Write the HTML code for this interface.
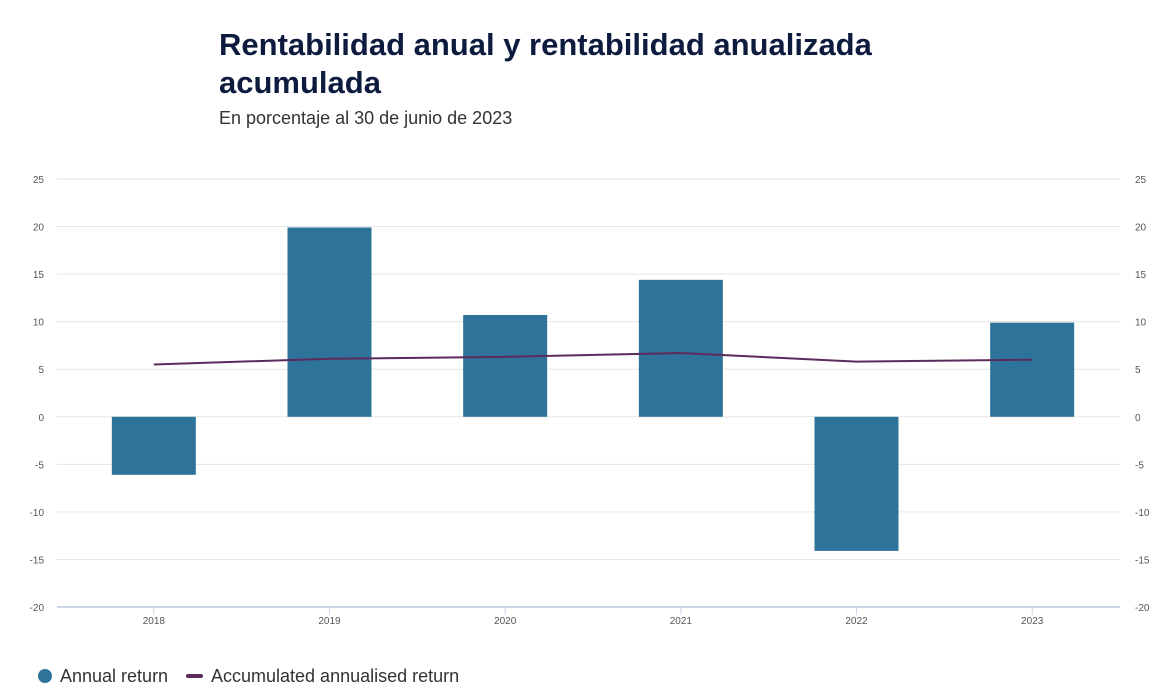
<!DOCTYPE html>
<html><head><meta charset="utf-8"><style>
body{margin:0;background:#fff;font-family:"Liberation Sans",sans-serif;}
#wrap{position:relative;width:1172px;height:699px;overflow:hidden}
h1{position:absolute;left:219px;top:26px;margin:0;font-size:31px;line-height:38px;font-weight:bold;color:#0d1b3e;}
.sub{position:absolute;left:219px;top:108px;font-size:18px;color:#333;}
svg text{font-family:"Liberation Sans",sans-serif}
</style></head><body>
<div id="wrap">
<h1>Rentabilidad anual y rentabilidad anualizada<br>acumulada</h1>
<div class="sub">En porcentaje al 30 de junio de 2023</div>
<svg id="chart" width="1172" height="699" style="position:absolute;left:0;top:0"></svg>
</div>
<script>
const categories=["2018","2019","2020","2021","2022","2023"];
const annualReturn=[-6.1,19.9,10.7,14.4,-14.1,9.9];
const accumulated=[5.5,6.1,6.3,6.7,5.8,6.0];
const yTicks=[25,20,15,10,5,0,-5,-10,-15,-20];
const NS="http://www.w3.org/2000/svg";
const svg=document.getElementById('chart');
const L=66,R=1120,gridL=57,top0=179,bot=607,yMax=25,yMin=-20;
const band=(R-L)/categories.length;
function y(v){return top0+(yMax-v)/(yMax-yMin)*(bot-top0);}
function x(i){return L+band*(i+0.5);}
function mk(t,a){const e=document.createElementNS(NS,t);for(const k in a)e.setAttribute(k,a[k]);svg.appendChild(e);return e;}
yTicks.forEach(t=>{
 const g=mk('line',{x1:gridL,x2:R,y1:y(t),y2:y(t),stroke:t===yMin?'#ccd3e6':'#e6e6e6','stroke-width':t===yMin?2:1});
 
 
 const a=mk('text',{x:44,y:y(t)+4,'text-anchor':'end','font-size':10,fill:'#555'});a.textContent=t;
 
 
 const b=mk('text',{x:1135,y:y(t)+4,'text-anchor':'start','font-size':10,fill:'#555'});b.textContent=t;
 
 
});
categories.forEach((c,i)=>{
 const tk=mk('line',{x1:x(i),x2:x(i),y1:bot,y2:bot+8,stroke:'#ccd3e6'});
 
 
 const t=mk('text',{x:x(i),y:624,'text-anchor':'middle','font-size':10,fill:'#555'});t.textContent=c;
 
 
 const v=annualReturn[i];
 const r=mk('rect',{x:x(i)-42,width:84,y:Math.min(y(v),y(0)),height:Math.abs(y(v)-y(0)),fill:'#2e7399'});
 
 
});
const p=mk('polyline',{points:accumulated.map((v,i)=>x(i)+','+y(v)).join(' '),fill:'none',stroke:'#5c2b5e','stroke-width':2});


// legend
const c1=mk('circle',{cx:45,cy:676,r:7,fill:'#2e7399'});


const t1=mk('text',{x:60,y:682,'font-size':18,fill:'#333'});t1.textContent='Annual return';


const l2=mk('line',{x1:188,x2:201,y1:676,y2:676,stroke:'#5c2b5e','stroke-width':4,'stroke-linecap':'round'});


const t2=mk('text',{x:211,y:682,'font-size':18,fill:'#333'});t2.textContent='Accumulated annualised return';


</script>
</body></html>
